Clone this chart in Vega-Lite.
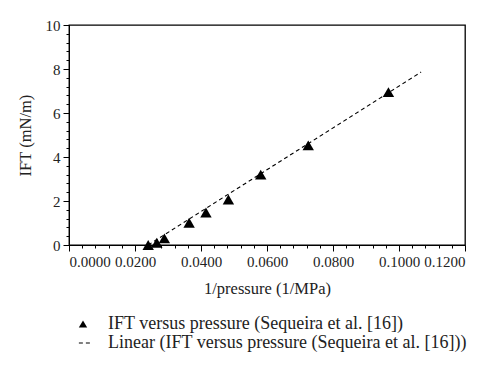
{
  "$schema": "https://vega.github.io/schema/vega-lite/v6.json",
  "width": 396,
  "height": 220,
  "autosize": {"type": "none"},
  "padding": {"left": 69, "top": 25, "right": 35, "bottom": 123},
  "background": "white",
  "config": {
    "view": {"stroke": "black", "strokeWidth": 1.3},
    "font": "Liberation Serif, serif",
    "axis": {"labelFont": "Liberation Serif, serif", "titleFont": "Liberation Serif, serif", "labelFontSize": 15, "titleFontSize": 16.5, "titleFontWeight": "normal", "labelColor": "#222", "titleColor": "#222", "domainColor": "black", "tickColor": "black", "grid": false},
    "legend": {"labelFont": "Liberation Serif, serif", "labelFontSize": 18, "labelColor": "#222", "labelLimit": 450}
  },
  "datasets": {
    "pts": [
      {"inv_p": 0.0240, "ift": 0.0, "series": "IFT versus pressure (Sequeira et al. [16])"},
      {"inv_p": 0.0266, "ift": 0.1, "series": "IFT versus pressure (Sequeira et al. [16])"},
      {"inv_p": 0.0289, "ift": 0.3, "series": "IFT versus pressure (Sequeira et al. [16])"},
      {"inv_p": 0.0364, "ift": 1.01, "series": "IFT versus pressure (Sequeira et al. [16])"},
      {"inv_p": 0.0415, "ift": 1.48, "series": "IFT versus pressure (Sequeira et al. [16])"},
      {"inv_p": 0.0483, "ift": 2.07, "series": "IFT versus pressure (Sequeira et al. [16])"},
      {"inv_p": 0.0581, "ift": 3.2, "series": "IFT versus pressure (Sequeira et al. [16])"},
      {"inv_p": 0.0725, "ift": 4.53, "series": "IFT versus pressure (Sequeira et al. [16])"},
      {"inv_p": 0.0968, "ift": 6.95, "series": "IFT versus pressure (Sequeira et al. [16])"}
    ],
    "fit": [
      {"inv_p": 0.0240, "ift": 0.0, "series": "Linear (IFT versus pressure (Sequeira et al. [16]))"},
      {"inv_p": 0.1067, "ift": 7.86, "series": "Linear (IFT versus pressure (Sequeira et al. [16]))"}
    ]
  },
  "layer": [
    {
      "data": {"name": "fit"},
      "mark": {"type": "line", "color": "black", "strokeWidth": 1.1},
      "encoding": {
        "x": {"field": "inv_p", "type": "quantitative", "scale": {"domain": [0, 0.12], "nice": false}, "axis": {"title": null, "orient": "bottom", "values": [0.004, 0.008, 0.012, 0.016, 0.024, 0.028, 0.032, 0.036, 0.044, 0.048, 0.052, 0.056, 0.064, 0.068, 0.072, 0.076, 0.084, 0.088, 0.092, 0.096, 0.104, 0.108, 0.112, 0.116], "labels": false, "domain": false, "tickSize": 3}},
        "y": {"field": "ift", "type": "quantitative", "scale": {"domain": [0, 10], "nice": false}, "axis": {"title": null, "orient": "left", "values": [0.4, 0.8, 1.2, 1.6, 2.4, 2.8, 3.2, 3.6, 4.4, 4.8, 5.2, 5.6, 6.4, 6.8, 7.2, 7.6, 8.4, 8.8, 9.2, 9.6], "labels": false, "domain": false, "tickSize": 3}},
        "strokeDash": {"field": "series", "type": "nominal", "scale": {"range": [[4, 3]]}, "legend": {"title": null, "orient": "none", "legendX": 7, "legendY": 309, "symbolType": "stroke", "symbolSize": 150, "symbolStrokeColor": "black", "symbolStrokeWidth": 1.2, "labelOffset": 14, "labelLimit": 450}}
      }
    },
    {
      "data": {"name": "pts"},
      "mark": {"type": "point", "filled": true, "color": "black", "size": 130, "opacity": 1},
      "encoding": {
        "x": {"field": "inv_p", "type": "quantitative", "axis": {"title": "1/pressure (1/MPa)", "orient": "bottom", "values": [0, 0.02, 0.04, 0.06, 0.08, 0.1, 0.12], "format": ".4f", "tickSize": 6, "labelPadding": 3, "titlePadding": 11}},
        "y": {"field": "ift", "type": "quantitative", "axis": {"title": "IFT (mN/m)", "orient": "left", "values": [0, 2, 4, 6, 8, 10], "format": "d", "tickSize": 6, "labelPadding": 3, "titlePadding": 12}},
        "shape": {"field": "series", "type": "nominal", "scale": {"range": ["triangle-up"]}, "legend": {"title": null, "orient": "none", "legendX": 5, "legendY": 290, "symbolSize": 70, "symbolFillColor": "black", "symbolStrokeColor": "black", "labelOffset": 16, "labelLimit": 450}}
      }
    }
  ],
  "resolve": {"axis": {"x": "independent", "y": "independent"}}
}
